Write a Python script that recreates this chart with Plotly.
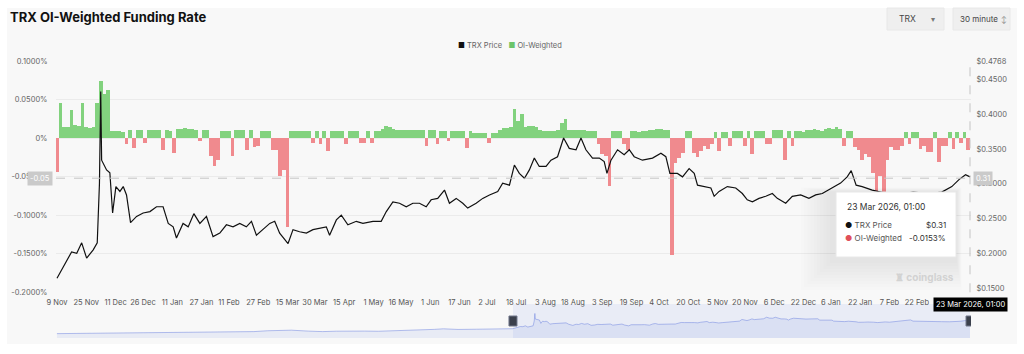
import plotly.graph_objects as go
import pandas as pd

# ---------------- data ----------------
TITLE = "TRX OI-Weighted Funding Rate"
START = "2024-11-09"
LAST_TIME = "2026-03-23 01:00"
CROSS_LEFT = -0.052          # crosshair level on the funding axis (%)

# TRX price: day offset from START and price in USD
price_day = [0, 3.3, 5.3, 8.0, 10.8, 13.5, 16.2, 19.8, 22.0, 23.2,
             23.9, 24.4, 27.1, 28.9, 30.4, 32.2, 34.4, 36.2, 38.0, 40.2,
             43.5, 47.1, 50.8, 54.4, 58.0, 60.8, 63.5, 65.3, 68.9, 71.7,
             74.8, 78.1, 81.7, 85.3, 89.0, 92.6, 96.2, 99.9, 103.5, 106.3,
             109.0, 112.6, 116.3, 119.0, 121.7, 126.3, 129.0, 132.6, 136.3, 139.9,
             143.6, 147.2, 149.0, 152.7, 155.4, 159.0, 163.6, 167.2, 172.7, 177.2,
             180.0, 183.6, 187.2, 190.9, 194.5, 198.1, 201.8, 204.5, 208.1, 211.8,
             214.5, 218.2, 221.8, 224.5, 229.1, 232.7, 236.4, 240.9, 243.6, 247.3,
             250.0, 252.7, 255.5, 258.2, 260.9, 263.6, 267.3, 270.0, 273.6, 276.9,
             280.0, 283.7, 286.4, 289.1, 292.7, 296.4, 299.1, 300.6, 302.8, 306.4,
             310.0, 312.8, 315.5, 320.0, 325.5, 330.1, 332.8, 335.0, 339.1, 341.9,
             345.5, 348.3, 350.1, 353.7, 357.4, 359.2, 361.9, 366.4, 371.0, 374.6,
             377.3, 380.1, 383.7, 387.4, 391.0, 393.7, 398.3, 401.9, 406.5, 411.0,
             414.7, 418.3, 423.7, 428.3, 431.9, 434.1, 436.8, 440.1, 445.6, 452.0,
             460.0, 468.0, 476.5, 483.6, 489.1, 493.0, 496.6, 499.04]
price_val = [0.164, 0.180, 0.190, 0.202, 0.200, 0.215, 0.193, 0.205, 0.215, 0.300,
             0.433, 0.334, 0.320, 0.316, 0.258, 0.296, 0.289, 0.296, 0.284, 0.244,
             0.253, 0.258, 0.260, 0.267, 0.267, 0.243, 0.238, 0.222, 0.243, 0.238,
             0.257, 0.243, 0.253, 0.224, 0.229, 0.241, 0.238, 0.243, 0.238, 0.246,
             0.226, 0.234, 0.243, 0.246, 0.229, 0.214, 0.234, 0.231, 0.229, 0.234,
             0.236, 0.238, 0.226, 0.248, 0.255, 0.241, 0.246, 0.243, 0.246, 0.246,
             0.260, 0.274, 0.272, 0.267, 0.272, 0.272, 0.267, 0.277, 0.279, 0.291,
             0.272, 0.279, 0.272, 0.265, 0.272, 0.279, 0.284, 0.289, 0.301, 0.298,
             0.327, 0.315, 0.308, 0.320, 0.337, 0.325, 0.325, 0.334, 0.339, 0.366,
             0.351, 0.349, 0.366, 0.349, 0.337, 0.337, 0.332, 0.315, 0.334, 0.349,
             0.342, 0.349, 0.339, 0.334, 0.337, 0.344, 0.339, 0.315, 0.315, 0.310,
             0.322, 0.315, 0.298, 0.296, 0.294, 0.282, 0.289, 0.296, 0.294, 0.286,
             0.277, 0.274, 0.279, 0.282, 0.286, 0.279, 0.272, 0.282, 0.284, 0.279,
             0.284, 0.286, 0.294, 0.301, 0.310, 0.319, 0.298, 0.296, 0.291, 0.287,
             0.285, 0.288, 0.286, 0.288, 0.296, 0.306, 0.313, 0.310]

# OI-weighted funding rate (%), one value per 2-day bucket from START
funding_rate = [
    -0.044, 0.046, 0.014, 0.015, 0.036, 0.017, 0.016, 0.045, 0.014, 0.013,
    0.014, 0.045, 0.074, 0.057, 0.063, 0.009, 0.009, 0.009, 0.008, -0.008,
    0.010, -0.0125, 0.010, 0.010, -0.006, 0.010, 0.011, 0.010, 0.010, -0.015,
    0.010, 0.009, -0.019, 0.012, 0.012, 0.013, 0.012, 0.012, 0.011, -0.004,
    0.010, 0.010, -0.023, -0.036, -0.028, 0.009, 0.009, 0.009, -0.023, 0.010,
    0.010, 0.010, -0.015, 0.010, -0.012, -0.010, 0.009, 0.009, 0.009, -0.015,
    -0.015, -0.049, -0.041, -0.115, 0.009, 0.009, 0.009, 0.009, 0.009, 0.009,
    -0.006, 0.009, -0.008, 0.009, -0.017, 0.009, 0.009, 0.009, 0.009, -0.008,
    0.009, 0.009, 0.009, -0.006, -0.006, 0.009, -0.006, 0.009, 0.009, 0.012,
    0.0155, 0.014, 0.012, 0.010, 0.010, 0.010, 0.010, 0.010, 0.010, 0.010,
    0.010, -0.010, 0.010, 0.010, -0.008, 0.009, 0.009, -0.004, 0.009, 0.009,
    0.009, 0.009, -0.0125, 0.009, 0.007, 0.007, 0.007, 0.007, -0.006, 0.007,
    0.007, 0.010, 0.013, 0.013, 0.014, 0.038, 0.022, 0.031, 0.014, 0.016,
    0.016, 0.014, 0.010, 0.009, 0.009, 0.009, 0.009, 0.010, 0.020, 0.025,
    0.010, 0.010, 0.010, 0.010, 0.010, 0.009, 0.009, 0.009, -0.008, -0.020,
    -0.023, -0.062, 0.009, 0.009, 0.009, -0.008, -0.015, 0.009, 0.009, 0.008,
    0.009, 0.009, 0.010, 0.011, 0.012, 0.012, 0.010, 0.010, -0.151, -0.032,
    -0.026, -0.019, 0.009, 0.009, -0.019, -0.024, -0.017, -0.010, -0.014, -0.008,
    0.008, -0.017, 0.008, 0.008, -0.010, 0.009, 0.009, 0.009, -0.010, 0.009,
    -0.021, 0.009, 0.009, 0.009, -0.008, -0.008, 0.011, 0.011, 0.011, -0.028,
    0.009, -0.010, 0.009, 0.009, 0.008, 0.010, 0.010, 0.012, 0.011, 0.009,
    0.012, 0.013, 0.012, 0.015, 0.012, -0.010, 0.009, 0.009, -0.012, -0.015,
    -0.028, -0.020, -0.025, -0.045, -0.069, -0.049, -0.071, -0.028, -0.012, -0.015,
    -0.015, -0.010, 0.008, -0.008, 0.008, 0.008, -0.014, -0.010, -0.018, -0.018,
    0.008, -0.031, -0.010, -0.010, 0.008, -0.014, 0.008, -0.006, 0.008, -0.0153,
]

# earlier TRX price history shown only in the navigator
hist_date = ["2023-06-30", "2023-07-15", "2023-07-31", "2023-08-15", "2023-08-31",
             "2023-09-15", "2023-09-30", "2023-10-15", "2023-10-31", "2023-11-15",
             "2023-11-30", "2023-12-15", "2023-12-31", "2024-01-15", "2024-01-31",
             "2024-02-15", "2024-02-29", "2024-03-12", "2024-03-31", "2024-04-15",
             "2024-04-30", "2024-05-15", "2024-05-31", "2024-06-15", "2024-06-30",
             "2024-07-15", "2024-07-31", "2024-08-15", "2024-08-25", "2024-09-10",
             "2024-09-30", "2024-10-15", "2024-10-31"]
hist_price = [0.077, 0.080, 0.078, 0.079, 0.078, 0.083, 0.089, 0.089, 0.093, 0.100,
              0.103, 0.104, 0.108, 0.110, 0.113, 0.128, 0.140, 0.138, 0.121, 0.113,
              0.120, 0.125, 0.122, 0.119, 0.124, 0.132, 0.134, 0.152, 0.162, 0.151,
              0.155, 0.160, 0.161]

x_tick_dates = ["2024-11-09", "2024-11-25", "2024-12-11", "2024-12-26", "2025-01-11",
                "2025-01-27", "2025-02-11", "2025-02-27", "2025-03-15", "2025-03-30",
                "2025-04-15", "2025-05-01", "2025-05-16", "2025-06-01", "2025-06-17",
                "2025-07-02", "2025-07-18", "2025-08-03", "2025-08-18", "2025-09-03",
                "2025-09-19", "2025-10-04", "2025-10-20", "2025-11-05", "2025-11-20",
                "2025-12-06", "2025-12-22", "2026-01-06", "2026-01-22", "2026-02-07",
                "2026-02-22"]
left_tick_vals = [0.1, 0.05, 0, -0.05, -0.1, -0.15, -0.2]
left_tick_text = ["0.1000%", "0.0500%", "0%", "-0.0500%", "-0.1000%", "-0.1500%", "-0.2000%"]
right_tick_vals = [0.4768, 0.45, 0.40, 0.35, 0.30, 0.25, 0.20, 0.15]
right_tick_text = ["$0.4768", "$0.4500", "$0.4000", "$0.3500", "$0.3000", "$0.2500",
                   "$0.2000", "$0.1500"]

# ---------------- derived ----------------
start = pd.Timestamp(START)
last_t = pd.Timestamp(LAST_TIME)
price_dates = [start + pd.Timedelta(days=d) for d in price_day]
funding_dates = [start + pd.Timedelta(days=2 * i) for i in range(len(funding_rate))]
nav_dates = [pd.Timestamp(d) for d in hist_date] + price_dates
nav_price = hist_price + price_val

GREEN = "#82d27e"
RED = "#f08a8e"
FONT = "Inter, Roboto, 'Noto Sans', sans-serif"

# layout geometry (pixels -> paper)
L, Rr, T, B = 56, 971, 61, 338


def px(x):
    return (x - L) / (Rr - L)


def py(y):
    return (B - y) / (B - T)


main_bottom = py(292.3)
nav_top = py(304)

fig = go.Figure()

fig.add_trace(go.Bar(
    x=funding_dates, y=funding_rate,
    marker=dict(color=[GREEN if v >= 0 else RED for v in funding_rate], line=dict(width=0)),
    width=2 * 86400000, xaxis="x", yaxis="y", hoverinfo="skip", showlegend=False))

fig.add_trace(go.Scatter(
    x=price_dates, y=price_val, mode="lines",
    line=dict(color="#111111", width=1.2), xaxis="x", yaxis="y2",
    hoverinfo="skip", showlegend=False))

fig.add_trace(go.Scatter(
    x=nav_dates, y=nav_price, mode="lines", fill="tozeroy",
    fillcolor="rgba(125,145,225,0.13)", line=dict(color="rgba(120,140,225,0.55)", width=1),
    xaxis="x2", yaxis="y3", hoverinfo="skip", showlegend=False))

shapes = [
    # card background
    dict(type="rect", xref="paper", yref="paper", x0=px(7), x1=px(1017), y0=py(344), y1=py(8),
         fillcolor="#f8f8f8", line=dict(width=0), layer="below"),
    # dropdown boxes
    dict(type="rect", xref="paper", yref="paper", x0=px(887), x1=px(944), y0=py(30), y1=py(8),
         fillcolor="#efefef", line=dict(color="#e8e8e8", width=1), layer="below"),
    dict(type="rect", xref="paper", yref="paper", x0=px(953), x1=px(1010), y0=py(30), y1=py(8),
         fillcolor="#efefef", line=dict(color="#e8e8e8", width=1), layer="below"),
    # navigator selection
    dict(type="rect", xref="x2", yref="y3 domain", x0=start, x1=last_t, y0=0, y1=1,
         fillcolor="rgba(110,135,235,0.10)", line=dict(width=0), layer="below"),
    # crosshair
    dict(type="line", xref="paper", yref="y", x0=0, x1=1, y0=CROSS_LEFT, y1=CROSS_LEFT,
         line=dict(color="#c4c4c4", width=1, dash="dash")),
    dict(type="line", xref="x", yref="paper", x0=last_t, x1=last_t, y0=main_bottom, y1=1,
         line=dict(color="#c4c4c4", width=1, dash="dash")),
]
# navigator handles
for t in (start, last_t):
    shapes.append(dict(type="rect", xref="x2", yref="y3", xsizemode="pixel", ysizemode="pixel",
                       xanchor=t, yanchor=0.3, x0=-4, x1=4, y0=-5, y1=5,
                       fillcolor="#3b404c", line=dict(color="#70768a", width=1)))
# tooltip soft shadow + box
for i in range(10):
    g = 22 - 2 * i
    shapes.append(dict(type="rect", xref="paper", yref="paper",
                       x0=px(836 - g * 1.6), x1=px(956 + g * 0.25),
                       y0=py(257 + g * 1.5), y1=py(192 - g * 0.2),
                       fillcolor="rgba(0,0,0,0.009)", line=dict(width=0)))
shapes.append(dict(type="rect", xref="paper", yref="paper", x0=px(836), x1=px(956),
                   y0=py(257), y1=py(192), fillcolor="#ffffff",
                   line=dict(color="#e8e8e8", width=1)))

ann = [
    dict(xref="paper", yref="paper", x=px(510), y=py(45), showarrow=False,
         text="<span style='color:#111'>■</span> TRX Price   <span style='color:#6cc46a'>■</span> OI-Weighted",
         font=dict(family=FONT, size=7.5, color="#666666"), xanchor="center", yanchor="middle"),
    dict(xref="paper", yref="paper", x=px(897), y=py(19), text="TRX", showarrow=False,
         font=dict(family=FONT, size=8.5, color="#444"), xanchor="left", yanchor="middle"),
    dict(xref="paper", yref="paper", x=px(933), y=py(19), text="▾", showarrow=False,
         font=dict(family=FONT, size=8, color="#777"), xanchor="center", yanchor="middle"),
    dict(xref="paper", yref="paper", x=px(958), y=py(19), text="30 minute", showarrow=False,
         font=dict(family=FONT, size=8, color="#444"), xanchor="left", yanchor="middle"),
    dict(xref="paper", yref="paper", x=px(1004), y=py(19), text="↕", showarrow=False,
         font=dict(family=FONT, size=7, color="#888"), xanchor="center", yanchor="middle"),
    # crosshair labels
    dict(xref="paper", yref="y", x=px(53), y=CROSS_LEFT, text=f"{CROSS_LEFT:.2f}", showarrow=False,
         xanchor="right", yanchor="middle", bgcolor="#cacaca", borderpad=2,
         font=dict(family=FONT, size=7.5, color="#ffffff")),
    dict(xref="paper", yref="y", x=px(973), y=CROSS_LEFT, text=f"{price_val[-1]:.2f}", showarrow=False,
         xanchor="left", yanchor="middle", bgcolor="#cacaca", borderpad=2,
         font=dict(family=FONT, size=7.5, color="#ffffff")),
    dict(xref="x", yref="paper", x=last_t, y=py(304.5), text=last_t.strftime("%-d %b %Y, %H:%M"),
         showarrow=False, xanchor="center", yanchor="middle", bgcolor="#000000", borderpad=2,
         font=dict(family=FONT, size=7.5, color="#ffffff")),
    # tooltip content
    dict(xref="paper", yref="paper", x=px(845), y=py(207), text=last_t.strftime("%-d %b %Y, %H:%M"),
         showarrow=False, xanchor="left", yanchor="middle", font=dict(family=FONT, size=8.5, color="#333")),
    dict(xref="paper", yref="paper", x=px(843), y=py(225),
         text="<span style='color:#111'>●</span> TRX Price", showarrow=False, xanchor="left",
         yanchor="middle", font=dict(family=FONT, size=8, color="#555")),
    dict(xref="paper", yref="paper", x=px(948), y=py(225), text=f"${price_val[-1]:.2f}",
         showarrow=False, xanchor="right", yanchor="middle", font=dict(family=FONT, size=8, color="#333")),
    dict(xref="paper", yref="paper", x=px(843), y=py(238),
         text="<span style='color:#e0505a'>●</span> OI-Weighted", showarrow=False, xanchor="left",
         yanchor="middle", font=dict(family=FONT, size=8, color="#555")),
    dict(xref="paper", yref="paper", x=px(948), y=py(238), text=f"{funding_rate[-1]:.4f}%",
         showarrow=False, xanchor="right", yanchor="middle", font=dict(family=FONT, size=8, color="#333")),
    # watermark
    dict(xref="paper", yref="paper", x=px(956), y=py(277), text="<b>♜ coinglass</b>", showarrow=False,
         xanchor="right", yanchor="middle", font=dict(family=FONT, size=10, color="#d2d2d2")),
]

fig.update_layout(
    width=1024, height=354,
    margin=dict(l=L, r=1024 - Rr, t=T, b=354 - B, pad=0),
    paper_bgcolor="#ffffff", plot_bgcolor="rgba(0,0,0,0)",
    font=dict(family=FONT, size=8, color="#555"),
    title=dict(text=f"<b>{TITLE}</b>", x=10 / 1024, xref="container", xanchor="left",
               y=1 - 17 / 354, yanchor="middle", font=dict(family=FONT, size=13, color="#111")),
    showlegend=False, bargap=0,
    xaxis=dict(domain=[0, 1], anchor="y",
               range=[start - pd.Timedelta(hours=13), last_t + pd.Timedelta(hours=13)],
               tickvals=x_tick_dates, tickformat="%-d %b", showgrid=False, zeroline=False,
               showline=False, ticks="outside", ticklen=3, tickcolor="rgba(0,0,0,0)",
               tickfont=dict(family=FONT, size=7.5, color="#555")),
    yaxis=dict(domain=[main_bottom, 1], anchor="x", range=[-0.2, 0.1],
               tickvals=left_tick_vals, ticktext=left_tick_text, gridcolor="#ebebeb",
               gridwidth=1, zeroline=False, showline=False, ticks="outside", ticklen=6,
               tickcolor="rgba(0,0,0,0)", tickfont=dict(family=FONT, size=7.5, color="#666")),
    yaxis2=dict(overlaying="y", side="right", anchor="x", range=[0.1438, 0.4768],
                tickvals=right_tick_vals, ticktext=right_tick_text, showgrid=False,
                zeroline=False, showline=False, ticks="outside", ticklen=3,
                tickcolor="rgba(0,0,0,0)", tickfont=dict(family=FONT, size=7.5, color="#666")),
    xaxis2=dict(domain=[0, 1], anchor="y3",
                range=[pd.Timestamp("2023-06-29"), last_t + pd.Timedelta(hours=26)],
                visible=False),
    yaxis3=dict(domain=[0, nav_top], anchor="x2", range=[0, 0.6], visible=False),
    shapes=shapes, annotations=ann,
)

fig.write_html("out.html")
